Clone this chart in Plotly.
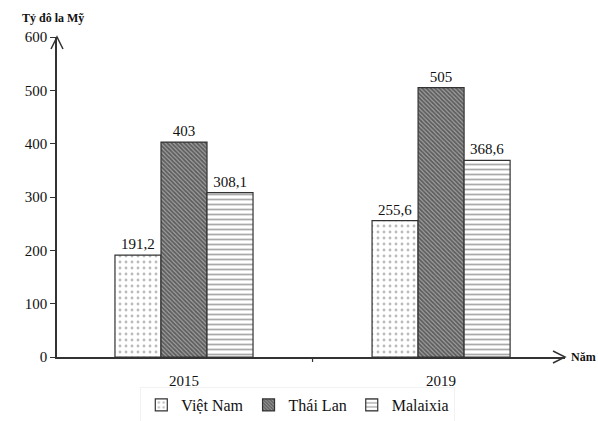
import plotly.graph_objects as go

years = ["2015", "2019"]
countries = ["Việt Nam", "Thái Lan", "Malaixia"]
values = {
    "Việt Nam": [191.2, 255.6],
    "Thái Lan": [403, 505],
    "Malaixia": [308.1, 368.6],
}
labels = {
    "Việt Nam": ["191,2", "255,6"],
    "Thái Lan": ["403", "505"],
    "Malaixia": ["308,1", "368,6"],
}
y_ticks = [0, 100, 200, 300, 400, 500, 600]

patterns = {
    "Việt Nam": dict(shape=".", fgcolor="#777777", bgcolor="white", size=6, solidity=0.18),
    "Thái Lan": dict(shape="\\", fgcolor="#1a1a1a", bgcolor="#a0a0a0", size=3, solidity=0.6),
    "Malaixia": dict(shape="-", fgcolor="#555555", bgcolor="white", size=5, solidity=0.35),
}

FONT = "Liberation Serif"
xpos = [0, 1]

fig = go.Figure()
for c in countries:
    fig.add_trace(go.Bar(
        name=c, x=xpos, y=values[c], text=labels[c],
        textposition="outside", cliponaxis=False,
        textfont=dict(family=FONT, size=15, color="#111"),
        marker=dict(color="white", pattern=patterns[c],
                    line=dict(color="#333333", width=1.2)),
    ))

fig.update_layout(
    width=598, height=421,
    margin=dict(l=57, r=33, t=37, b=64, autoexpand=False),
    paper_bgcolor="white", plot_bgcolor="white",
    barmode="group", bargap=0.463, bargroupgap=0,
    font=dict(family=FONT, size=14, color="#111"),
    showlegend=True,
    legend=dict(orientation="h", x=0.474, xanchor="center", y=-0.15, yanchor="middle",
                font=dict(family=FONT, size=16, color="#111"),
                bordercolor="#f2f2f2", borderwidth=1, itemwidth=30,
                traceorder="normal"),
    xaxis=dict(range=[-0.494, 1.482], tickvals=xpos, ticktext=years, ticks="",
               showline=True, linecolor="#333", linewidth=1.5, showgrid=False,
               zeroline=False, tickfont=dict(family=FONT, size=15), automargin=False,
               ticklabelstandoff=9),
    yaxis=dict(range=[0, 600], tickvals=y_ticks, ticks="outside", ticklen=5,
               tickcolor="#333", showline=True, linecolor="#333", linewidth=1.5,
               showgrid=False, zeroline=False, automargin=False,
               tickfont=dict(family=FONT, size=15)),
)

# tick between categories
fig.add_shape(type="path", xref="x", yref="paper", xsizemode="scaled",
              ysizemode="pixel", yanchor=0,
              path="M 0.5,0 L 0.5,-5", line=dict(color="#333", width=1.2))

# arrowheads
fig.add_shape(type="path", xref="paper", yref="paper", xsizemode="pixel", xanchor=0,
              ysizemode="pixel", yanchor=1, path="M -6,-12 L 0,0 L 6,-12",
              line=dict(color="#333", width=1.5))
fig.add_shape(type="path", xref="paper", yref="paper", xsizemode="pixel", xanchor=1,
              ysizemode="pixel", yanchor=0, path="M -12,6 L 0,0 L -12,-6",
              line=dict(color="#333", width=1.5))

fig.add_annotation(text="<b>Tỷ đô la Mỹ</b>", xref="paper", yref="paper",
                   x=0, y=1.0, xshift=-37, yshift=19, xanchor="left", yanchor="middle",
                   showarrow=False, font=dict(family=FONT, size=12, color="#111"))
fig.add_annotation(text="<b>Năm</b>", xref="paper", yref="paper",
                   x=1.0, y=0, xshift=4, xanchor="left", yanchor="middle",
                   showarrow=False, font=dict(family=FONT, size=12, color="#111"))

fig.write_html("out.html", config={"displayModeBar": False},
               post_script="document.body.style.margin='0';document.body.style.padding='0';")
